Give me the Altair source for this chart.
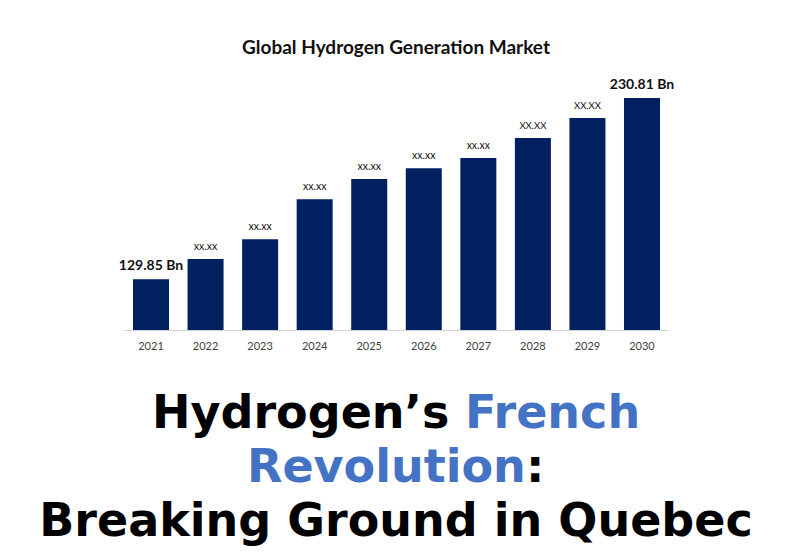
import altair as alt
import pandas as pd

years = ["2021", "2022", "2023", "2024", "2025", "2026", "2027", "2028", "2029", "2030"]
values = [129.85, 141.1, 152.1, 174.4, 185.7, 191.6, 197.3, 208.5, 219.7, 230.81]
labels = ["129.85 Bn", "xx.xx", "xx.xx", "xx.xx", "xx.xx", "xx.xx", "xx.xx", "XX.XX", "XX.XX", "230.81 Bn"]
is_end = [True, False, False, False, False, False, False, False, False, True]

chart_title = "Global Hydrogen Generation Market"
line1_black = "Hydrogen\u2019s"
line1_blue = "French"
line2_blue = "Revolution"
line2_black = ":"
line3_black = "Breaking Ground in Quebec"

df = pd.DataFrame({"year": years, "value": values, "label": labels, "end": is_end})

NAVY = "#002060"
BLUE = "#4472C4"
FONT = "Lato"
BIG = "DejaVu Sans"
BASE = 101.5

x = alt.X("year:O", title=None,
          scale=alt.Scale(paddingInner=0.34, paddingOuter=0.165),
          axis=alt.Axis(ticks=False, labelAngle=0, labelFont=FONT, labelFontSize=11,
                        labelColor="#404040", domainColor="#d0d0d0", labelPadding=10))
y = alt.Y("value:Q", title=None, axis=None,
          scale=alt.Scale(domain=[BASE, 230.81], zero=False, nice=False))

base = alt.Chart(df)
bars = base.mark_bar(color=NAVY).encode(x=x, y=y, y2=alt.Y2(datum=BASE))
end_labels = base.transform_filter("datum.end").mark_text(
    font=FONT, fontSize=14, fontWeight="bold", baseline="bottom", dy=-6, color="#111"
).encode(x=x, y=y, text="label:N")
mid_labels = base.transform_filter("!datum.end").mark_text(
    font=FONT, baseline="bottom", dy=-7, color="#111"
).encode(x=x, y=y, text="label:N",
         size=alt.condition("datum.label === 'XX.XX'", alt.value(9.5), alt.value(10.5)))


def txt(s, xpos, ypos, size, color, align, weight="bold", font=FONT, baseline="alphabetic"):
    return alt.Chart(pd.DataFrame({"t": [s]})).mark_text(
        font=font, fontSize=size, fontWeight=weight, color=color, align=align, baseline=baseline
    ).encode(x=alt.value(xpos), y=alt.value(ypos), text="t:N")


title = txt(chart_title, 272, -50, 19, "#111", "center", baseline="middle")
l1a = txt(line1_black, 28, 330, 46, "#000", "left", font=BIG)
l1b = txt(line1_blue, 341, 330, 46, BLUE, "left", font=BIG)
l2a = txt(line2_blue, 123, 384, 46, BLUE, "left", font=BIG)
l2b = txt(line2_black, 402, 384, 46, "#000", "left", font=BIG)
l3 = txt(line3_black, 272, 438, 46, "#000", "center", font=BIG)

chart = alt.layer(bars, end_labels, mid_labels, title, l1a, l1b, l2a, l2b, l3).properties(
    width=545, height=232,
    padding={"left": 116, "top": 90, "right": 111, "bottom": 216},
    autosize=alt.AutoSizeParams(type="none"),
    background="white",
).configure_view(stroke=None)

chart.save("out.html", embed_options={"renderer": "svg", "actions": False})
